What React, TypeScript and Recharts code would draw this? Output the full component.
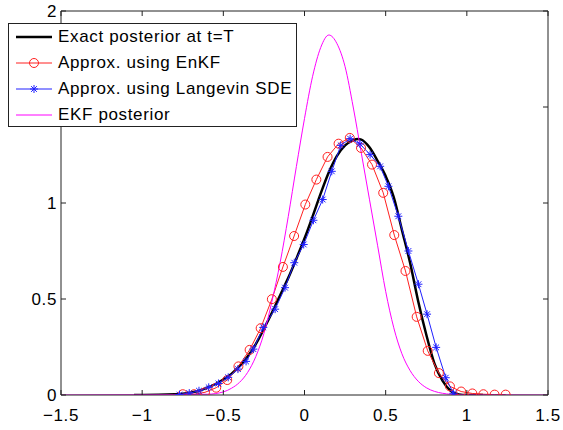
import { Legend, Line, LineChart, XAxis, YAxis } from "recharts"

const font = "'Liberation Sans', Arial, Helvetica, sans-serif"

const xTicks = [-1.5, -1, -0.5, 0, 0.5, 1, 1.5]
const yTicks = [0, 0.5, 1, 1.5, 2]

// exact posterior at t=T
const exactX = [-1.05, -0.9, -0.8, -0.75, -0.7, -0.65, -0.6, -0.55, -0.5, -0.45, -0.4, -0.35, -0.3, -0.25, -0.2, -0.15, -0.1, -0.05, 0, 0.05, 0.1, 0.15, 0.2, 0.25, 0.3, 0.33, 0.35, 0.4, 0.45, 0.5, 0.55, 0.6, 0.65, 0.7, 0.75, 0.8, 0.85, 0.9, 0.95, 1.0, 1.1]
const exactY = [0, 0.001, 0.004, 0.007, 0.013, 0.022, 0.038, 0.056, 0.08, 0.11, 0.15, 0.2, 0.265, 0.345, 0.43, 0.52, 0.61, 0.71, 0.815, 0.93, 1.05, 1.16, 1.245, 1.3, 1.327, 1.333, 1.33, 1.29, 1.22, 1.14, 1.03, 0.86, 0.69, 0.49, 0.315, 0.165, 0.075, 0.022, 0.003, 0, 0]

// EnKF approximation
const enkfX = [-0.75, -0.681, -0.613, -0.544, -0.476, -0.407, -0.338, -0.27, -0.201, -0.133, -0.064, 0.005, 0.073, 0.142, 0.21, 0.279, 0.348, 0.416, 0.485, 0.553, 0.622, 0.691, 0.759, 0.828, 0.896, 0.965, 1.034, 1.102, 1.171, 1.239]
const enkfY = [0.004, 0.004, 0.014, 0.038, 0.078, 0.149, 0.235, 0.348, 0.499, 0.667, 0.828, 0.992, 1.122, 1.24, 1.309, 1.339, 1.287, 1.2, 1.053, 0.833, 0.646, 0.407, 0.23, 0.114, 0.045, 0.018, 0.008, 0.004, 0.002, 0.002]

// Langevin SDE approximation
const sdeX = [-0.77, -0.71, -0.65, -0.59, -0.53, -0.47, -0.41, -0.36, -0.315, -0.254, -0.181, -0.12, -0.063, -0.005, 0.055, 0.112, 0.168, 0.223, 0.281, 0.342, 0.404, 0.466, 0.517, 0.578, 0.64, 0.702, 0.755, 0.811, 0.87, 0.917]
const sdeY = [0.002, 0.01, 0.022, 0.04, 0.06, 0.092, 0.135, 0.175, 0.239, 0.352, 0.447, 0.559, 0.689, 0.784, 0.91, 1.018, 1.165, 1.3, 1.335, 1.307, 1.252, 1.191, 1.087, 0.931, 0.75, 0.577, 0.421, 0.248, 0.09, 0.009]

// EKF posterior
const ekfX = [-1.5, -0.6, -0.5, -0.45, -0.4, -0.35, -0.3, -0.25, -0.2, -0.15, -0.1, -0.05, 0, 0.05, 0.1, 0.15, 0.2, 0.25, 0.3, 0.35, 0.4, 0.45, 0.5, 0.55, 0.6, 0.65, 0.7, 0.75, 0.8, 0.85, 0.9, 1.0, 1.5]
const ekfY = [0, 0.004, 0.016, 0.035, 0.066, 0.118, 0.2, 0.32, 0.49, 0.69, 0.93, 1.19, 1.44, 1.66, 1.81, 1.875, 1.83, 1.71, 1.5, 1.26, 1.02, 0.78, 0.54, 0.35, 0.215, 0.128, 0.072, 0.038, 0.019, 0.009, 0.004, 0.001, 0]

const seriesNames = ["Exact posterior at t=T", "Approx. using EnKF", "Approx. using Langevin SDE", "EKF posterior"]
const markers = ["none", "circle", "star", "none"]

const zip = (xs: number[], ys: number[]) => xs.map((x, i) => ({ x, y: ys[i] }))

const exactData = zip(exactX, exactY)
const enkfData = zip(enkfX, enkfY)
const sdeData = zip(sdeX, sdeY)
const ekfData = zip(ekfX, ekfY)

const fmt = (v: number) => String(v).replace("-", "\u2212")

function Star({ cx, cy, color, s = 4 }: { cx: number; cy: number; color: string; s?: number }) {
  const d = s * 0.72
  return (
    <g stroke={color} strokeWidth={1}>
      <line x1={cx - s} y1={cy} x2={cx + s} y2={cy} />
      <line x1={cx} y1={cy - s} x2={cx} y2={cy + s} />
      <line x1={cx - d} y1={cy - d} x2={cx + d} y2={cy + d} />
      <line x1={cx - d} y1={cy + d} x2={cx + d} y2={cy - d} />
    </g>
  )
}

function LegendBox({ payload }: any) {
  const items = (payload || [])
    .filter((e: any) => seriesNames.includes(e.value))
    .sort((a: any, b: any) => seriesNames.indexOf(a.value) - seriesNames.indexOf(b.value))
  return (
    <div style={{ width: 289, height: 104, boxSizing: "border-box", border: "1px solid #222", background: "#fff", fontFamily: font, fontSize: 17, letterSpacing: 0.65, color: "#000" }}>
      {items.map((e: any) => {
        const i = seriesNames.indexOf(e.value)
        return (
          <div key={i} style={{ display: "flex", alignItems: "center", height: 26 }}>
            <svg width={46} height={26} style={{ flex: "none" }}>
              <line x1={7} y1={13} x2={43} y2={13} stroke={e.color} strokeWidth={i === 0 ? 2.5 : 1} />
              {markers[i] === "circle" && <circle cx={25} cy={13} r={4.5} fill="none" stroke={e.color} />}
              {markers[i] === "star" && <Star cx={25} cy={13} color={e.color} />}
            </svg>
            <span style={{ marginLeft: 3, whiteSpace: "nowrap" }}>{e.value}</span>
          </div>
        )
      })}
    </div>
  )
}

const axisStroke = "#222"
const tickStyle = { fill: "#000", fontSize: 17, fontFamily: font, letterSpacing: 0.6 }

export default function App() {
  return (
    <div style={{ position: "absolute", left: 0, top: 0, background: "#fff" }}>
      <LineChart width={563} height={430} margin={{ top: 10, right: 14, bottom: 0, left: 0 }}>
        <XAxis xAxisId="b" type="number" dataKey="x" orientation="bottom" domain={[-1.5, 1.5]} ticks={xTicks} height={35}
          stroke={axisStroke} tickSize={-5} tickMargin={19} tick={tickStyle} tickFormatter={fmt} allowDataOverflow />
        <XAxis xAxisId="t" type="number" dataKey="x" orientation="top" domain={[-1.5, 1.5]} ticks={xTicks} height={1}
          stroke={axisStroke} tickSize={-5} tickFormatter={() => ""} allowDataOverflow />
        <YAxis yAxisId="l" type="number" domain={[0, 2]} ticks={yTicks} width={61}
          stroke={axisStroke} tickSize={-5} tickMargin={9} tick={tickStyle} tickFormatter={fmt} allowDataOverflow />
        <YAxis yAxisId="r" type="number" orientation="right" domain={[0, 2]} ticks={yTicks} width={1}
          stroke={axisStroke} tickSize={-5} tickFormatter={() => ""} allowDataOverflow />
        <Legend layout="vertical" align="center" verticalAlign="middle" wrapperStyle={{ left: 8, top: 23, width: 289, height: 104 }}
          content={<LegendBox />} />
        <Line xAxisId="b" yAxisId="l" data={exactData} dataKey="y" name={seriesNames[0]} type="monotone"
          stroke="#000" strokeWidth={2.5} dot={false} activeDot={false} isAnimationActive={false} />
        <Line xAxisId="b" yAxisId="l" data={enkfData} dataKey="y" name={seriesNames[1]} type="linear"
          stroke="#ff2020" strokeWidth={1} dot={{ r: 4.5, fill: "none", stroke: "#ff2020", strokeWidth: 1 }} activeDot={false} isAnimationActive={false} />
        <Line xAxisId="b" yAxisId="l" data={sdeData} dataKey="y" name={seriesNames[2]} type="linear"
          stroke="#2020ff" strokeWidth={1}
          dot={(p: any) => <Star key={p.index} cx={p.cx} cy={p.cy} color="#2020ff" />}
          activeDot={false} isAnimationActive={false} />
        <Line xAxisId="b" yAxisId="l" data={ekfData} dataKey="y" name={seriesNames[3]} type="monotone"
          stroke="#ff00ff" strokeWidth={1} dot={false} activeDot={false} isAnimationActive={false} />
        {/* invisible series so the mirrored top/right axes get a domain */}
        <Line xAxisId="t" yAxisId="r" data={ekfData} dataKey="y" name="frame" legendType="none" type="linear"
          stroke="none" dot={false} activeDot={false} isAnimationActive={false} />
      </LineChart>
    </div>
  )
}
